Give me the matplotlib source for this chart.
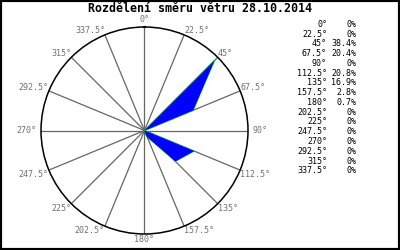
import numpy as np
import matplotlib.pyplot as plt
from matplotlib.patches import Rectangle

directions = [0, 22.5, 45, 67.5, 90, 112.5, 135, 157.5, 180,
              202.5, 225, 247.5, 270, 292.5, 315, 337.5]
shares = [0, 0, 38.4, 20.4, 0, 20.8, 16.9, 2.8, 0.7,
          0, 0, 0, 0, 0, 0, 0]
title = "Rozdělení směru větru 28.10.2014"
rmax = 40

mono = 'DejaVu Sans Mono'
gray = '#707070'

fig = plt.figure(figsize=(4, 2.5), dpi=100)
fig.patch.set_facecolor('white')

ax = fig.add_axes([0.1025, 0.064, 0.5175, 0.828], projection='polar')
ax.set_theta_zero_location('N')
ax.set_theta_direction(-1)
ax.set_ylim(0, rmax)
ax.grid(False)
ax.set_xticks([])
ax.set_yticks([])
ax.spines['polar'].set_color('black')
ax.spines['polar'].set_linewidth(1.1)

theta = np.deg2rad(directions)

# paprsky
for th in theta:
    ax.plot([th, th], [0, rmax], color='#666666', lw=0.9, zorder=1)

# polygon vetru
th_c = np.append(theta, theta[0])
r_c = np.append(shares, shares[0])
ax.plot(th_c, r_c, color='#00dd00', lw=0.6, zorder=2)
ax.fill(th_c, r_c, color='#0000ff', lw=0, zorder=3)

# popisky smeru
for a, th in zip(directions, theta):
    if a == 0:
        ha, va, off = 'center', 'bottom', (0, 2)
    elif a == 180:
        ha, va, off = 'center', 'top', (0, -1)
    elif a == 90:
        ha, va, off = 'left', 'center', (3, 0)
    elif a == 270:
        ha, va, off = 'right', 'center', (-3, 0)
    else:
        ha = 'left' if a < 180 else 'right'
        if a < 90 or a > 270:
            va, off = 'baseline', (0, 1)
        else:
            va, off = 'top', (0, 0)
    ax.annotate(f"{a:g}°", xy=(th, rmax), xytext=off, textcoords='offset points',
                ha=ha, va=va, fontsize=6, family=mono, color=gray,
                annotation_clip=False)

fig.text(0.5, 1 - 12.5 / 250, title, ha='center', va='baseline',
         fontsize=8.4, fontweight='bold', family=mono, color='black')

# tabulka vpravo
for i, (a, s) in enumerate(zip(directions, shares)):
    y = 1 - (24.3 + 9.77 * i) / 250
    fig.text(327 / 400, y, f"{a:g}°", ha='right', va='center',
             fontsize=6, family=mono, color='black')
    pct = "0%" if s == 0 else f"{s:.1f}%"
    fig.text(356.5 / 400, y, pct, ha='right', va='center',
             fontsize=6, family=mono, color='black')

fig.patches.append(Rectangle((0, 0), 1, 1, transform=fig.transFigure,
                             fill=False, edgecolor='black', lw=3))

fig.savefig('out.png', dpi=100)
